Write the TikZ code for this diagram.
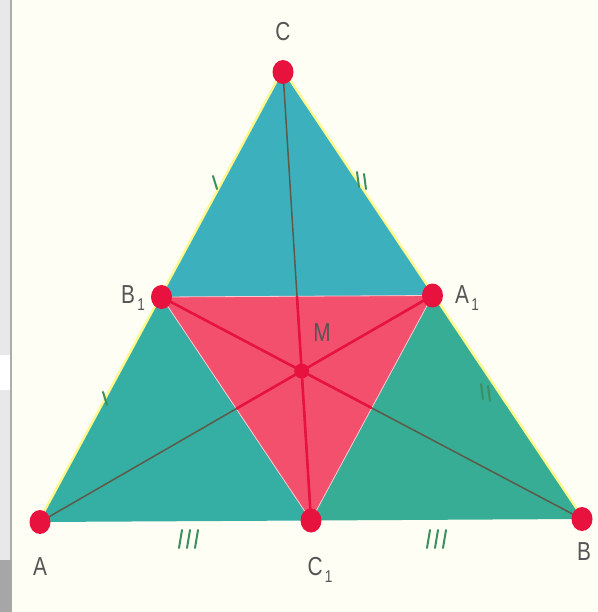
\documentclass[tikz,border=0pt]{standalone}
\usepackage{fontspec}
\setmainfont{Liberation Sans}
\usetikzlibrary{calc,shapes.geometric}
\newcommand{\subone}{\hspace{3pt}\raisebox{-7pt}{\fontsize{17}{17}\selectfont 1}}
\begin{document}
\begin{tikzpicture}[x=1pt,y=-1pt,
  dot/.style={ellipse,fill=dotred,inner sep=0pt,minimum width=21pt,minimum height=24pt},
  lab/.style={text=labgray,font=\fontsize{26}{26}\selectfont,inner sep=0pt,xscale=0.8},
  median/.style={draw=medgray,line width=1.5pt},
  redmed/.style={draw=dotred,line width=2.6pt},
  tick/.style={draw=tickgreen,line width=2pt,line cap=round}]
\definecolor{dotred}{HTML}{E8123E}
\definecolor{pinkfill}{HTML}{F2506C}
\definecolor{topteal}{HTML}{3DB0BE}
\definecolor{leftteal}{HTML}{35AEA4}
\definecolor{rightteal}{HTML}{36AD94}
\definecolor{medgray}{HTML}{5E5A48}
\definecolor{labgray}{HTML}{555555}
\definecolor{tickgreen}{HTML}{3C9060}
\definecolor{cream}{HTML}{FFFEF4}
\useasboundingbox (0,0) rectangle (597,612);
\fill[cream] (0,0) rectangle (597,612);
% left strip
\fill[gray!18] (0,0) rectangle (11,560);
\fill[white] (0,355) rectangle (11,390);
\draw[gray!65,line width=2pt] (11,0) -- (11,560);
\fill[gray!70] (0,560) rectangle (12,612);
% vertices and midpoints
\coordinate (A) at (40,522);
\coordinate (B) at (582,519);
\coordinate (C) at (283,72);
\coordinate (C1) at ($(A)!0.5!(B)$);
\coordinate (B1) at ($(A)!0.5!(C)$);
\coordinate (A1) at ($(B)!0.5!(C)$);
\coordinate (M) at (301.7,371);
% yellow glow
\draw[yellow!45,line width=5pt,line join=round] (A) -- (C) -- (B);
% regions
\fill[topteal] (C) -- (B1) -- (A1) -- cycle;
\fill[leftteal] (A) -- (C1) -- (B1) -- cycle;
\fill[rightteal] (B) -- (A1) -- (C1) -- cycle;
\fill[pinkfill] (A1) -- (B1) -- (C1) -- cycle;
\draw[white!70!pinkfill,line width=0.8pt] (A1) -- (B1) -- (C1) -- cycle;
% medians
\draw[median] (A) -- (A1);
\draw[median] (B) -- (B1);
\draw[median] (C) -- (C1);
\begin{scope}
\clip (A1) -- (B1) -- (C1) -- cycle;
\draw[redmed] (A) -- (A1);
\draw[redmed] (B) -- (B1);
\draw[redmed] (C) -- (C1);
\end{scope}
% tick marks
\draw[tick] (213,176) -- (217,189);
\draw[tick] (103,392) -- (107,405);
\draw[tick] (357,172) -- (359,187);
\draw[tick] (364,174) -- (366,189);
\draw[tick] (481,384) -- (483,399);
\draw[tick] (488,386) -- (490,401);
\draw[tick] (182,530) -- (179,548);
\draw[tick] (190,530) -- (187,548);
\draw[tick] (198,530) -- (195,548);
\draw[tick] (430,530) -- (427,548);
\draw[tick] (438,530) -- (435,548);
\draw[tick] (446,530) -- (443,548);
% dots
\node[dot] (dA) at (A) {};
\node[dot] (dB) at (B) {};
\node[dot] (dC) at (C) {};
\node[dot] (dA1) at (A1) {};
\node[dot] (dB1) at (B1) {};
\node[dot] (dC1) at (C1) {};
\node[circle,fill=dotred,inner sep=0pt,minimum size=15pt] (dM) at (M) {};
% labels
\node[lab] (lC) at (283,32) {C};
\node[lab] (lA) at (40,567) {A};
\node[lab] (lB) at (584,552) {B};
\node[lab] (lC1) at (320,570) {C\subone};
\node[lab] (lB1) at (133,298) {B\subone};
\node[lab] (lA1) at (467,298) {A\subone};
\node[lab] (lM) at (322,333) {M};
\end{tikzpicture}
\end{document}
